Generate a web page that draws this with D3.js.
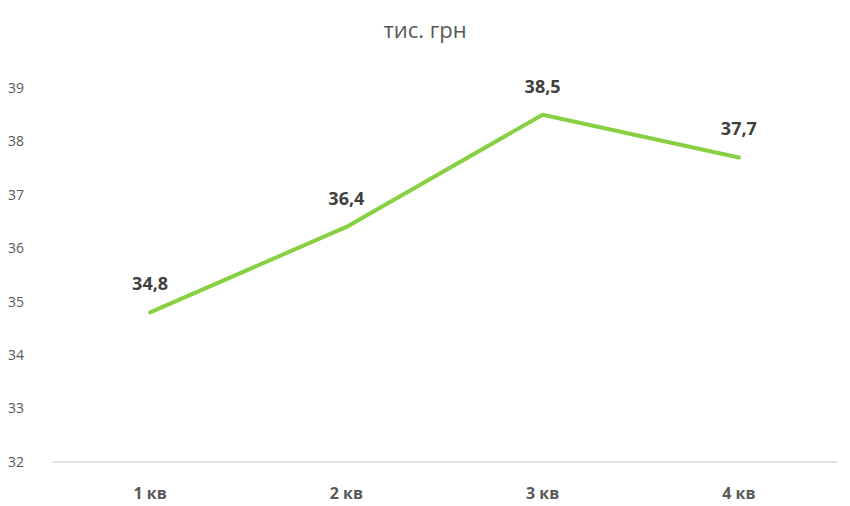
<!DOCTYPE html>
<html>
<head>
<meta charset="utf-8">
<script src="https://cdn.jsdelivr.net/npm/d3@7"></script>
<style>
  body { margin: 0; background: #fff; }
  text { font-family: "Open Sans", sans-serif; }
</style>
</head>
<body>
<svg width="850" height="506"></svg>
<script>
// data
var categories = ["1 кв", "2 кв", "3 кв", "4 кв"];
var values = [34.8, 36.4, 38.5, 37.7];
var yTicks = [32, 33, 34, 35, 36, 37, 38, 39];

var svg = d3.select("svg");
var plotLeft = 52, plotRight = 837, plotTop = 88, plotBottom = 462;

var x = d3.scalePoint().domain(categories).range([plotLeft, plotRight]).padding(0.5);
var y = d3.scaleLinear().domain([32, 39]).range([plotBottom, plotTop]);

// title
svg.append("text")
    .attr("x", 425).attr("y", 38)
    .attr("text-anchor", "middle")
    .attr("fill", "#595959")
    .style("font-size", "22px")
    .text("тис. грн");

// y axis labels
svg.selectAll(".ytick")
    .data(yTicks)
    .enter()
    .append("text")
    .attr("x", 8)
    .attr("y", function(d){ return y(d); })
    .attr("dy", "0.35em")
    .attr("fill", "#595959")
    .style("font-size", "14px")
    .text(function(d){ return d; });

// baseline
svg.append("line")
    .attr("x1", plotLeft).attr("x2", plotRight)
    .attr("y1", y(32)).attr("y2", y(32))
    .attr("stroke", "#d9d9d9")
    .attr("stroke-width", 1.5);

// category labels
svg.selectAll(".xlab")
    .data(categories)
    .enter()
    .append("text")
    .attr("x", function(d){ return x(d); })
    .attr("y", 499)
    .attr("text-anchor", "middle")
    .attr("fill", "#595959")
    .style("font-size", "16px")
    .style("font-weight", "bold")
    .text(function(d){ return d; });

// line
var line = d3.line()
    .x(function(d,i){ return x(categories[i]); })
    .y(function(d){ return y(d); });

svg.append("path")
    .datum(values)
    .attr("d", line)
    .attr("fill", "none")
    .attr("stroke", "#86d042")
    .attr("stroke-width", 4)
    .attr("stroke-linecap", "round")
    .attr("stroke-linejoin", "round");

// data labels
svg.selectAll(".dlab")
    .data(values)
    .enter()
    .append("text")
    .attr("x", function(d,i){ return x(categories[i]); })
    .attr("y", function(d){ return y(d) - 22; })
    .attr("text-anchor", "middle")
    .attr("fill", "#404040")
    .style("font-size", "18px")
    .style("font-weight", "bold")
    .text(function(d){ return String(d).replace(".", ","); });
</script>
</body>
</html>
